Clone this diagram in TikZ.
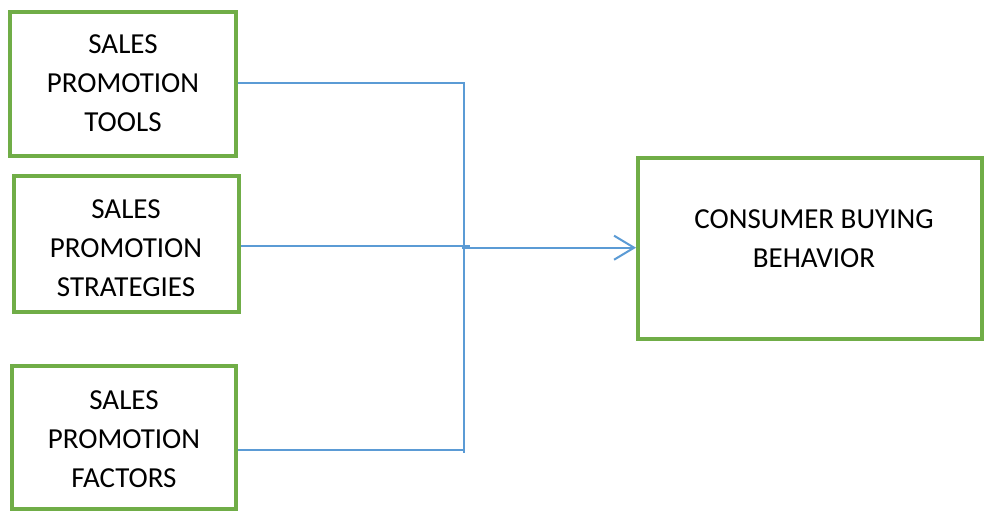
\documentclass[tikz,border=0pt]{standalone}
\usepackage{fontspec}
\setmainfont{Carlito}
\usetikzlibrary{arrows.meta}
\definecolor{boxgreen}{HTML}{70AD47}
\definecolor{lineblue}{HTML}{5B9BD5}
\begin{document}
\begin{tikzpicture}[x=0.5pt,y=-0.5pt,
  greenbox/.style={draw=boxgreen, line width=2pt, fill=white, inner sep=0pt, align=center,
    font=\fontsize{14.5pt}{19.5pt}\selectfont},
  boxtext/.style={inner sep=0pt, align=center, font=\fontsize{14.5pt}{19.5pt}\selectfont},
  conn/.style={draw=lineblue, line width=1pt}]
\fill[white] (0,0) rectangle (985,512);
\useasboundingbox (0,0) rectangle (985,512);
\node[greenbox, minimum width=113pt, minimum height=72pt] (b1) at (123,84) {};
\node[boxtext] (t1) at (123,83) {SALES\\PROMOTION\\TOOLS};
\node[greenbox, minimum width=112.5pt, minimum height=68pt] (b2) at (126.5,244) {};
\node[boxtext] (t2) at (126,248) {SALES\\PROMOTION\\STRATEGIES};
\node[greenbox, minimum width=112pt, minimum height=71.5pt] (b3) at (124,437.5) {};
\node[boxtext] (t3) at (124,439) {SALES\\PROMOTION\\FACTORS};
\node[greenbox, minimum width=172pt, minimum height=90.5pt] (b4) at (810,248.5) {};
\node[boxtext] (t4) at (814,239) {CONSUMER BUYING\\BEHAVIOR};
\coordinate (j1) at (463.5,83.5);
\coordinate (j3) at (463.5,453);
\coordinate (j2) at (470,245.7);
\coordinate (ja) at (462,247.7);
\draw[conn] (b1.east |- j1) -- (j1) -- (j3);
\draw[conn] (b2.east |- j2) -- (j2);
\draw[conn] (b3.east |- 0,450) -- (463.5,450);
\draw[conn, -{Straight Barb[length=10pt,width=12pt,line width=1pt]}] (ja) -- (b4.west |- ja);
\end{tikzpicture}
\end{document}
